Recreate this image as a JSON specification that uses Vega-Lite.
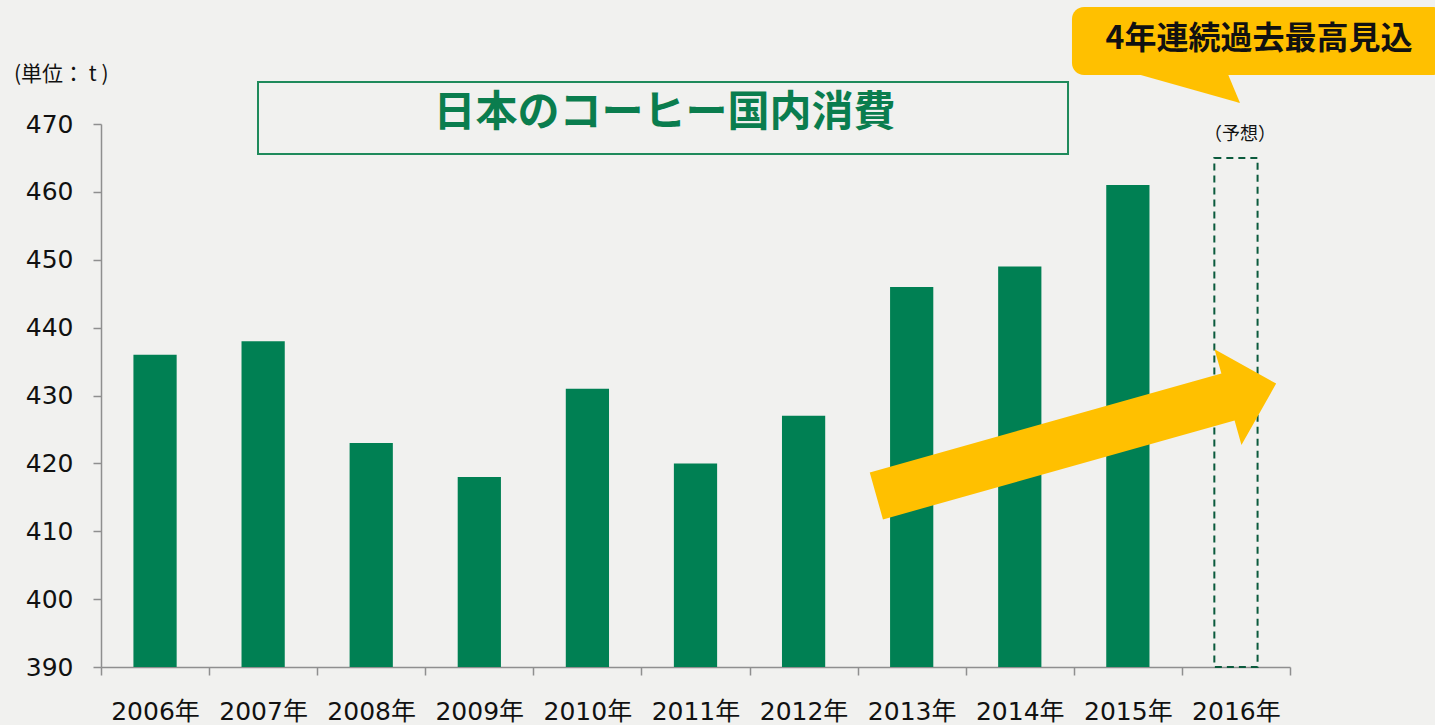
{
  "$schema": "https://vega.github.io/schema/vega-lite/v6.json",
  "width": 1189,
  "height": 543,
  "autosize": {"type": "none"},
  "padding": {"left": 101, "top": 124, "right": 145, "bottom": 58},
  "background": "#f1f1ef",
  "config": {"view": {"stroke": null}},
  "datasets": {
    "consumption": [
      {"year": "2006年", "value": 436, "type": "actual"},
      {"year": "2007年", "value": 438, "type": "actual"},
      {"year": "2008年", "value": 423, "type": "actual"},
      {"year": "2009年", "value": 418, "type": "actual"},
      {"year": "2010年", "value": 431, "type": "actual"},
      {"year": "2011年", "value": 420, "type": "actual"},
      {"year": "2012年", "value": 427, "type": "actual"},
      {"year": "2013年", "value": 446, "type": "actual"},
      {"year": "2014年", "value": 449, "type": "actual"},
      {"year": "2015年", "value": 461, "type": "actual"},
      {"year": "2016年", "value": 465, "type": "forecast"}
    ]
  },
  "layer": [
    {
      "data": {"name": "consumption"},
      "encoding": {
        "x": {
          "field": "year",
          "type": "nominal",
          "sort": null,
          "scale": {
            "domain": ["2006年","2007年","2008年","2009年","2010年","2011年","2012年","2013年","2014年","2015年","2016年"],
            "paddingInner": 0.6,
            "paddingOuter": 0.3
          },
          "axis": null
        },
        "y": {
          "field": "value",
          "type": "quantitative",
          "scale": {"domain": [390, 470], "zero": false, "nice": false},
          "axis": {
            "title": null,
            "values": [390, 400, 410, 420, 430, 440, 450, 460, 470],
            "labelFont": "DejaVu Sans",
            "labelFontSize": 25,
            "labelColor": "#111111",
            "labelPadding": 20,
            "tickSize": 8,
            "tickColor": "#8f8f8f",
            "tickWidth": 1.5,
            "domainColor": "#8f8f8f",
            "domainWidth": 1.5,
            "grid": false
          }
        },
        "y2": {"datum": 390}
      },
      "layer": [
        {
          "transform": [{"filter": "datum.type === 'actual'"}],
          "mark": {"type": "bar", "color": "#008053", "clip": false}
        },
        {
          "transform": [{"filter": "datum.type === 'forecast'"}],
          "mark": {"type": "bar", "filled": false, "fill": "transparent", "stroke": "#0b5a3c", "strokeWidth": 2, "strokeDash": [7, 5], "clip": false}
        }
      ]
    },
    {
      "encoding": {
        "x": {
          "field": "u",
          "type": "quantitative",
          "scale": {"domain": [0, 11], "nice": false, "zero": false},
          "axis": {
            "title": null,
            "values": [0, 1, 2, 3, 4, 5, 6, 7, 8, 9, 10, 11],
            "labelExpr": "datum.value < 11 ? (2006 + datum.value) + '年' : ''",
            "labelOffset": 54,
            "labelAlign": "center",
            "labelFont": "DejaVu Sans, Noto Sans CJK JP",
            "labelFontSize": 25,
            "labelColor": "#111111",
            "labelPadding": 24,
            "labelFlush": false,
            "labelOverlap": false,
            "tickSize": 8,
            "tickColor": "#8f8f8f",
            "tickWidth": 1.5,
            "domainColor": "#8f8f8f",
            "domainWidth": 1.5,
            "grid": false
          }
        },
        "y": {"field": "v", "type": "quantitative", "scale": {"domain": [390, 470], "zero": false, "nice": false}, "axis": null}
      },
      "layer": [
        {
          "data": {"values": [{"u": 1.4525, "u2": 8.9463, "v": 476.19, "v2": 465.58}]},
          "mark": {"type": "rect", "fill": "transparent", "stroke": "#1f8a5b", "strokeWidth": 2, "clip": false},
          "encoding": {"x2": {"field": "u2"}, "y2": {"field": "v2"}}
        },
        {
          "data": {"values": [{"u": 5.213, "v": 471.69, "label": "日本のコーヒー国内消費"}]},
          "mark": {"type": "text", "font": "Noto Sans CJK JP", "fontSize": 42, "fontWeight": "bold", "color": "#0a7d4e", "align": "center", "baseline": "middle", "clip": false},
          "encoding": {"text": {"field": "label"}}
        },
        {
          "data": {"values": [{"u": -0.805, "v": 477.22, "label": "(単位： t )"}]},
          "mark": {"type": "text", "font": "Noto Sans CJK JP", "fontSize": 21, "color": "#111111", "align": "left", "baseline": "middle", "clip": false},
          "encoding": {"text": {"field": "label"}}
        },
        {
          "data": {"values": [{"u": 10.537, "v": 468.38, "label": "（予想）"}]},
          "mark": {"type": "text", "font": "Noto Sans CJK JP", "fontSize": 18, "color": "#111111", "align": "center", "baseline": "middle", "clip": false},
          "encoding": {"text": {"field": "label"}}
        },
        {
          "data": {"values": [{"u": 9.0226, "v": 423.48, "shape": "arrow"}]},
          "mark": {"type": "point", "shape": "M -1 -0.1175 L 0.759 -0.1175 L 0.759 -0.2396 L 1 0 L 0.759 0.2396 L 0.759 0.1175 L -1 0.1175 Z", "size": 172474, "angle": -15.7, "filled": true, "color": "#FFC000", "opacity": 1, "strokeWidth": 0, "clip": false}
        },
        {
          "data": {"values": [{"u": 8.983, "u2": 12.43, "v": 487.24, "v2": 477.22}]},
          "mark": {"type": "rect", "color": "#FFC000", "cornerRadius": 12, "clip": false},
          "encoding": {"x2": {"field": "u2"}, "y2": {"field": "v2"}}
        },
        {
          "data": {"values": [{"u": 10.029, "v": 475.38, "shape": "pointer"}]},
          "mark": {"type": "point", "shape": "M -1 -0.282 L 0.764 -0.282 L 1 0.282 Z", "size": 12100, "filled": true, "color": "#FFC000", "opacity": 1, "strokeWidth": 0, "clip": false}
        },
        {
          "data": {"values": [{"u": 10.713, "v": 482.52, "label": "4年連続過去最高見込"}]},
          "mark": {"type": "text", "font": "Noto Sans CJK JP", "fontSize": 32, "fontWeight": "bold", "color": "#111111", "align": "center", "baseline": "middle", "clip": false},
          "encoding": {"text": {"field": "label"}}
        }
      ]
    }
  ],
  "resolve": {"scale": {"x": "independent"}, "axis": {"y": "independent"}}
}
